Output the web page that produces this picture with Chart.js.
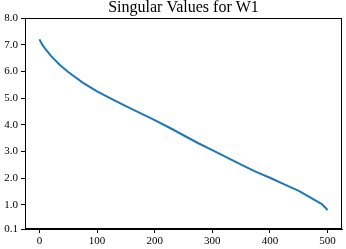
<!DOCTYPE html>
<html>
<head>
<meta charset="utf-8">
<script src="https://cdn.jsdelivr.net/npm/chart.js@4"></script>
<style>
  html, body { margin: 0; padding: 0; background: #fff; }
  #wrap { width: 346px; height: 249px; }
</style>
</head>
<body>
<div id="wrap"><canvas id="svChart" width="346" height="249"></canvas></div>
<script>
// values
const indices = [0, 5, 10, 20, 35, 50, 75, 100, 125, 150, 175, 200, 225, 250,
  275, 300, 325, 350, 375, 400, 425, 450, 475, 490, 500];
const singularValues = [7.20, 7.00, 6.85, 6.58, 6.25, 5.98, 5.58, 5.25, 4.97, 4.70,
  4.44, 4.18, 3.90, 3.61, 3.32, 3.05, 2.78, 2.51, 2.25, 2.02, 1.77, 1.53, 1.22, 1.03, 0.81];
const xTicks = [0, 100, 200, 300, 400, 500];
const yTicks = [0.1, 1.0, 2.0, 3.0, 4.0, 5.0, 6.0, 7.0, 8.0];
const titleText = "Singular Values for W1";

const serif = "'Liberation Serif', 'DejaVu Serif', serif";

// matplotlib style: full frame + title centred over the axes
const frame = {
  id: "frame",
  afterDraw(chart) {
    const { ctx, chartArea: a } = chart;
    ctx.save();
    ctx.strokeStyle = "#000";
    ctx.lineWidth = 1;
    ctx.strokeRect(a.left + 0.5, a.top + 0.5, a.right - a.left - 1, a.bottom - a.top - 1);
    ctx.fillStyle = "#000";
    ctx.font = "16px " + serif;
    ctx.textAlign = "center";
    ctx.textBaseline = "alphabetic";
    ctx.fillText(titleText, (a.left + a.right) / 2, 12);
    ctx.restore();
  }
};

new Chart(document.getElementById("svChart"), {
  type: "line",
  data: {
    datasets: [{
      data: indices.map((x, i) => ({ x, y: singularValues[i] })),
      borderColor: "#1f77b4",
      borderWidth: 2,
      pointRadius: 0,
      tension: 0
    }]
  },
  options: {
    responsive: false,
    animation: false,
    layout: { padding: { top: 18, right: 4, left: 0, bottom: 0 } },
    plugins: {
      legend: { display: false },
      tooltip: { enabled: false },
      title: { display: false }
    },
    scales: {
      x: {
        type: "linear",
        min: -25,
        max: 525,
        afterBuildTicks: (s) => { s.ticks = xTicks.map(v => ({ value: v })); },
        afterFit: (s) => { s.height = 20; },
        ticks: {
          color: "#000",
          font: { family: serif, size: 11 },
          padding: 2,
          maxRotation: 0,
          callback: (v) => String(v)
        },
        grid: { display: true, drawOnChartArea: false, drawTicks: true, tickLength: 4, tickColor: "#000" },
        border: { display: true, color: "#000", width: 1 }
      },
      y: {
        type: "linear",
        min: 0.1,
        max: 8.0,
        afterBuildTicks: (s) => { s.ticks = yTicks.map(v => ({ value: v })); },
        afterFit: (s) => { s.width = 25; },
        ticks: {
          color: "#000",
          font: { family: serif, size: 11 },
          padding: 3,
          callback: (v) => Number(v).toFixed(1)
        },
        grid: { display: true, drawOnChartArea: false, drawTicks: true, tickLength: 4, tickColor: "#000" },
        border: { display: true, color: "#000", width: 1 }
      }
    }
  },
  plugins: [frame]
});
</script>
</body>
</html>
